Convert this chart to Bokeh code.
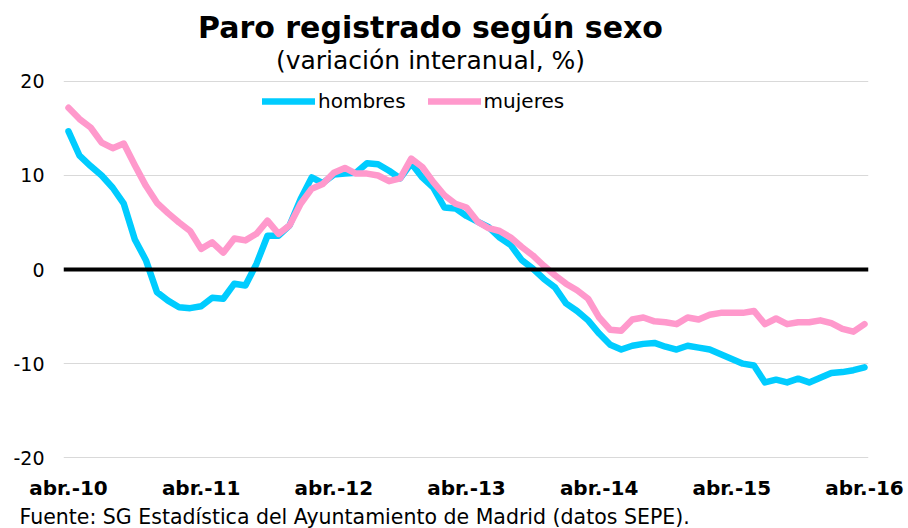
from bokeh.plotting import figure
from bokeh.models import Range1d, FixedTicker, Span, Title, Legend, LegendItem, Label
from bokeh.embed import file_html
from bokeh.resources import INLINE

# Monthly data, abr.-2010 .. abr.-2016 (index 0..72)
months = list(range(73))
hombres = [14.7, 12.1, 11.0, 10.0, 8.7, 7.0, 3.2, 1.0, -2.4, -3.3, -4.0, -4.1,
           -3.9, -3.0, -3.1, -1.5, -1.7, 0.6, 3.6, 3.6, 4.7, 7.5, 9.8, 9.2,
           10.1, 10.2, 10.3, 11.3, 11.2, 10.5, 9.7, 11.3, 9.8, 8.7, 6.6, 6.5,
           5.7, 5.1, 4.5, 3.4, 2.6, 1.0, 0.1, -1.0, -1.9, -3.6, -4.4, -5.4,
           -6.8, -8.0, -8.5, -8.1, -7.9, -7.8, -8.2, -8.5, -8.1, -8.3, -8.5, -9.0,
           -9.5, -10.0, -10.2, -12.0, -11.7, -12.0, -11.6, -12.0, -11.5, -11.0, -10.9, -10.7,
           -10.4]
mujeres = [17.2, 16.0, 15.1, 13.5, 12.9, 13.4, 11.1, 8.9, 7.1, 6.0, 5.0, 4.1,
           2.2, 2.9, 1.8, 3.3, 3.1, 3.8, 5.2, 3.8, 4.7, 7.0, 8.6, 9.1,
           10.3, 10.8, 10.2, 10.2, 10.0, 9.4, 9.7, 11.8, 10.9, 9.3, 7.9, 7.0,
           6.6, 5.1, 4.4, 4.1, 3.4, 2.4, 1.5, 0.4, -0.6, -1.5, -2.2, -3.1,
           -5.1, -6.4, -6.5, -5.3, -5.1, -5.5, -5.6, -5.8, -5.1, -5.3, -4.8, -4.6,
           -4.6, -4.6, -4.4, -5.8, -5.2, -5.8, -5.6, -5.6, -5.4, -5.7, -6.3, -6.6,
           -5.8]
tick_pos = [0, 12, 24, 36, 48, 60, 72]
tick_labels = ["abr.-10", "abr.-11", "abr.-12", "abr.-13", "abr.-14", "abr.-15", "abr.-16"]
y_ticks = [-20, -10, 0, 10, 20]
y_labels = ["-20", "-10", "0", "10", "20"]

FONT = "DejaVu Sans"
BLUE = "#00CCFF"
PINK = "#FF99CC"

# ---- layout constants (canvas pixels) ----
W, H = 908, 528
FRAME_L, FRAME_R = 63, 868
FRAME_T, FRAME_B = 0, 465.4        # expected frame bottom (below panels ~62.6px)
X0_PX, X72_PX = 68, 864            # where month 0 / month 72 sit
Y20_PX, YM20_PX = 81, 457.6        # where +20 / -20 sit
kx = (X72_PX - X0_PX) / 72.0
ky = (YM20_PX - Y20_PX) / 40.0
x_start = -(X0_PX - FRAME_L) / kx
x_end = 72 + (FRAME_R - X72_PX) / kx
y_end = 20 + (Y20_PX - FRAME_T) / ky
y_start = -20 - (FRAME_B - YM20_PX) / ky


def px_x(cx):
    return x_start + (cx - FRAME_L) / kx


def px_y(cy):
    return y_end - (cy - FRAME_T) / ky


p = figure(width=W, height=H, output_backend="svg", toolbar_location=None,
           x_range=Range1d(x_start, x_end), y_range=Range1d(y_start, y_end),
           min_border_left=FRAME_L, min_border_right=W - FRAME_R, min_border_top=0,
           min_border_bottom=0, title=None)
p.outline_line_color = None
p.background_fill_color = "white"
p.border_fill_color = "white"

# axes
p.xaxis.ticker = FixedTicker(ticks=tick_pos)
p.xaxis.major_label_overrides = {t: l for t, l in zip(tick_pos, tick_labels)}
p.xaxis.axis_line_color = None
p.xaxis.major_tick_line_color = None
p.xaxis.minor_tick_line_color = None
p.xaxis.major_tick_out = 0
p.xaxis.major_tick_in = 0
p.xaxis.minor_tick_out = 0
p.xaxis.minor_tick_in = 0
p.xaxis.major_label_text_font = FONT
p.xaxis.major_label_text_font_style = "bold"
p.xaxis.major_label_text_font_size = "20px"
p.xaxis.major_label_text_color = "black"
p.xaxis.major_label_standoff = 10

p.yaxis.ticker = FixedTicker(ticks=y_ticks)
p.yaxis.major_label_overrides = {t: l for t, l in zip(y_ticks, y_labels)}
p.yaxis.axis_line_color = None
p.yaxis.major_tick_line_color = None
p.yaxis.minor_tick_line_color = None
p.yaxis.major_tick_out = 0
p.yaxis.major_tick_in = 0
p.yaxis.minor_tick_out = 0
p.yaxis.minor_tick_in = 0
p.yaxis.major_label_text_font = FONT
p.yaxis.major_label_text_font_size = "19px"
p.yaxis.major_label_text_color = "black"
p.yaxis.major_label_standoff = 19

p.xgrid.grid_line_color = None
p.ygrid.ticker = FixedTicker(ticks=[-20, -10, 10, 20])
p.ygrid.grid_line_color = "#D9D9D9"
p.ygrid.grid_line_width = 1

p.add_layout(Span(location=0, dimension="width", line_color="black", line_width=4))

lh = p.line(months, hombres, line_color=BLUE, line_width=6.5, line_join="round", line_cap="round")
lm = p.line(months, mujeres, line_color=PINK, line_width=6.5, line_join="round", line_cap="round")

legend = Legend(items=[LegendItem(label="hombres", renderers=[lh]),
                       LegendItem(label="mujeres", renderers=[lm])],
                orientation="horizontal", location=(262 - FRAME_L, FRAME_B - 113),
                glyph_width=53, glyph_height=20, label_standoff=3, spacing=22,
                padding=0, margin=0, border_line_color=None, background_fill_alpha=0,
                label_text_font=FONT, label_text_font_size="20px", label_text_color="black")
p.add_layout(legend, "center")

# title and subtitle inside the (extended) frame area
p.add_layout(Label(x=px_x(430), y=px_y(27), text="Paro registrado según sexo",
                   text_align="center", text_baseline="middle", text_font=FONT,
                   text_font_size="30px", text_font_style="bold", text_color="black"))
p.add_layout(Label(x=px_x(430), y=px_y(60), text="(variación interanual, %)",
                   text_align="center", text_baseline="middle", text_font=FONT,
                   text_font_size="25px", text_color="black"))

foot = Title(text="Fuente: SG Estadística del Ayuntamiento de Madrid (datos SEPE).",
             align="left", offset=19 - FRAME_L, text_font=FONT, text_font_size="20.5px",
             text_font_style="normal", text_color="black", standoff=0)
p.add_layout(foot, "below")

open("out.html", "w").write(file_html(p, INLINE))
